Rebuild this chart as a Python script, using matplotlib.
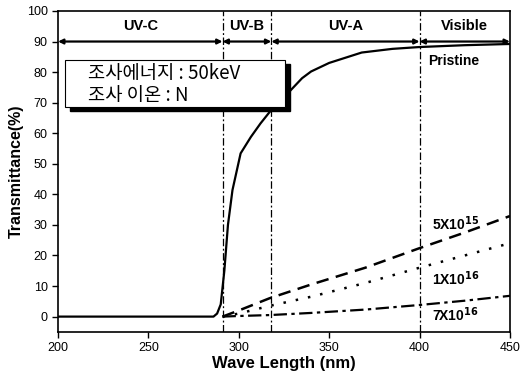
import numpy as np
import matplotlib.pyplot as plt
from matplotlib.patches import Rectangle

plt.rcParams['font.family'] = ['Liberation Sans', 'Noto Sans CJK KR', 'DejaVu Sans']

# ---- data ----
wl_pristine = [200, 250, 286, 288, 290, 292, 294, 296.5, 301, 306.7, 312, 317.8,
               322, 327.8, 335, 340, 350, 368, 385, 400, 425, 450]
t_pristine = [0, 0, 0, 1, 4, 15, 30, 41.4, 53.4, 58.8, 63.2, 67.5,
              70.5, 73.5, 78, 80.2, 83, 86.4, 87.6, 88.2, 88.8, 89.2]

wl_5e15 = [291, 300, 317, 340, 370, 400, 425, 450]
t_5e15 = [0, 2, 6, 10.5, 16, 22.4, 27.5, 32.9]

wl_1e16 = [291, 300, 317, 340, 370, 400, 425, 450]
t_1e16 = [0, 1, 3.5, 6.5, 11, 16, 20, 24]

wl_7e16 = [291, 300, 317, 340, 370, 400, 425, 450]
t_7e16 = [0, 0.2, 0.5, 1.2, 2.3, 3.8, 5.2, 6.8]

band_edges = [200, 291, 318, 400, 450]
band_names = ['UV-C', 'UV-B', 'UV-A', 'Visible']

fig = plt.figure(figsize=(5.23, 3.78), dpi=100)
ax = fig.add_axes([0.111, 0.122, 0.864, 0.849])

ax.plot(wl_pristine, t_pristine, color='black', lw=1.6, zorder=3)
ax.plot(wl_5e15, t_5e15, color='black', lw=1.8, ls=(0, (5, 3)))
ax.plot(wl_1e16, t_1e16, color='black', lw=1.8, ls=(0, (1, 4)))
ax.plot(wl_7e16, t_7e16, color='black', lw=1.6, ls=(0, (6, 2, 1.5, 2)))

# band separators
for x in band_edges[1:4]:
    ax.axvline(x, color='black', lw=0.9, ls=(0, (6, 2, 1.5, 2)), zorder=1)

# band arrows + names
for i, name in enumerate(band_names):
    x0, x1 = band_edges[i], band_edges[i + 1]
    ax.annotate('', xy=(x1, 90), xytext=(x0, 90),
                arrowprops=dict(arrowstyle='<|-|>', color='black', lw=1.6,
                                mutation_scale=7, shrinkA=0, shrinkB=0))
    ax.text((x0 + x1) / 2, 95, name, ha='center', va='center',
            fontsize=10.5, fontweight='bold')

# curve labels
lab = dict(fontsize=10, fontweight='bold', va='center')
ax.text(405, 83.5, 'Pristine', **lab)
ax.text(407, 30.5, r'5X10$^{\mathbf{15}}$', **lab)
ax.text(407, 12.5, r'1X10$^{\mathbf{16}}$', **lab)
ax.text(407, 0.5, r'7X10$^{\mathbf{16}}$', **lab)

# info box with shadow
ax.add_patch(Rectangle((206.8, 67.2), 121.5, 15.5, facecolor='black',
                       edgecolor='black', zorder=4))
ax.add_patch(Rectangle((204, 68.5), 121.5, 15.5, facecolor='white',
                       edgecolor='black', lw=0.8, zorder=5))
ax.text(216.5, 79.5, '조사에너지 : 50keV', fontsize=13.5,
        family=['Noto Sans CJK KR'], va='center', zorder=6)
ax.text(216.5, 72.5, '조사 이온 : N', fontsize=13.5,
        family=['Noto Sans CJK KR'], va='center', zorder=6)

ax.set_xlim(200, 450)
ax.set_ylim(-5, 100)
ax.set_xticks([200, 250, 300, 350, 400, 450])
ax.set_yticks(range(0, 101, 10))
ax.tick_params(labelsize=9, width=1, length=4)
for s in ax.spines.values():
    s.set_linewidth(1.2)

ax.set_xlabel('Wave Length (nm)', fontsize=12, fontweight='bold', labelpad=1)
ax.set_ylabel('Transmittance(%)', fontsize=11.5, fontweight='bold', labelpad=2)

fig.savefig('out.png', dpi=100)
